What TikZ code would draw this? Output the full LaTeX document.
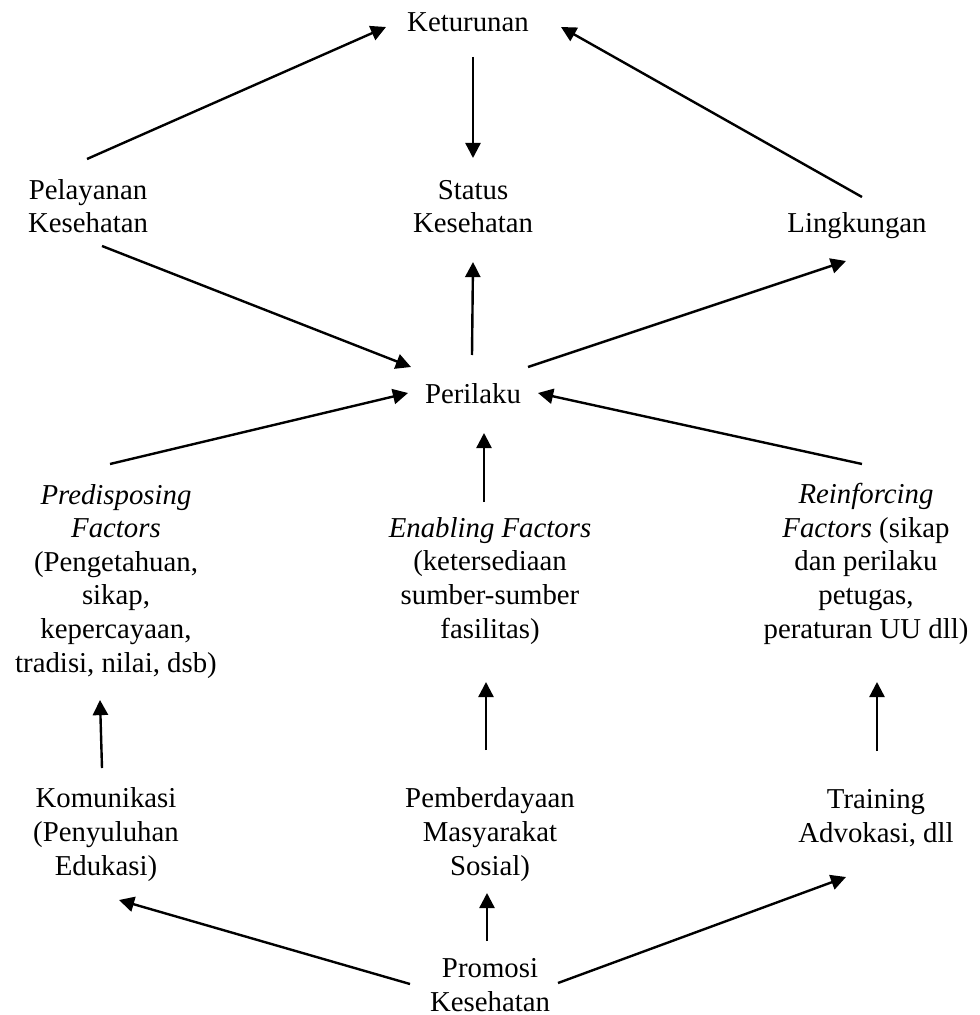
\documentclass[tikz,border=0pt]{standalone}
\usepackage{fontspec}
\setmainfont{Liberation Serif}
\usetikzlibrary{arrows.meta}

\begin{document}
\begin{tikzpicture}[x=0.41667pt,y=-0.41667pt,
    every node/.style={align=center,anchor=base,inner sep=0pt,font=\fontsize{12pt}{14pt}\selectfont},
    arr/.style={line width=1pt,-{Triangle[length=6.3pt,width=6.3pt]}}]
  \useasboundingbox (0,0) rectangle (979,1015);

  % nodes sit on the baseline of their last line
  \node (ket) at (468,32) {Keturunan}; % top
  \node (pel) at (88,233) {Pelayanan\\Kesehatan}; % left
  \node (sta) at (473,233) {Status\\Kesehatan}; % middle
  \node (lin) at (857,233) {Lingkungan}; % right
  \node (per) at (473,403) {Perilaku}; % centre

  \node (pre) at (116,672) {\textit{Predisposing}\\\textit{Factors}\\(Pengetahuan,\\sikap,\\kepercayaan,\\tradisi, nilai, dsb)};
  \node (ena) at (490,638) {\textit{Enabling Factors}\\(ketersediaan\\sumber-sumber\\fasilitas)};
  \node (rei) at (866,638) {\textit{Reinforcing}\\\textit{Factors} (sikap\\dan perilaku\\petugas,\\peraturan UU dll)};

  \node (kom) at (106,875) {Komunikasi\\(Penyuluhan\\Edukasi)};
  \node (pem) at (490,875) {Pemberdayaan\\Masyarakat\\Sosial)};
  \node (tra) at (876,842) {Training\\Advokasi, dll};
  \node (pro) at (490,1011) {Promosi\\Kesehatan}; % bottom

  % upper part
  \draw[arr] ([shift={(-1,-74)}]pel.base) -- ([shift={(-82,-5)}]ket.base);
  \draw[arr] ([shift={(5,-36)}]lin.base) -- ([shift={(93,-5)}]ket.base);
  \draw[arr] ([shift={(5,25)}]ket.base) -- ([shift={(0,-75)}]sta.base);
  \draw[arr] ([shift={(14,13)}]pel.base) -- ([shift={(-62,-36)}]per.base);
  \draw[arr] ([shift={(-1,-48)}]per.base) -- ([shift={(0,29)}]sta.base);
  \draw[arr] ([shift={(55,-36)}]per.base) -- ([shift={(-11,28)}]lin.base);

  % factors
  \draw[arr] ([shift={(-6,-208)}]pre.base) -- ([shift={(-65,-10)}]per.base);
  \draw[arr] ([shift={(-6,-136)}]ena.base) -- ([shift={(11,30)}]per.base);
  \draw[arr] ([shift={(-4,-174)}]rei.base) -- ([shift={(65,-10)}]per.base);

  % lower part
  \draw[arr] ([shift={(-4,-107)}]kom.base) -- ([shift={(-16,28)}]pre.base);
  \draw[arr] ([shift={(-4,-125)}]pem.base) -- ([shift={(-4,44)}]ena.base);
  \draw[arr] ([shift={(1,-91)}]tra.base) -- ([shift={(11,44)}]rei.base);
  \draw[arr] ([shift={(-80,-27)}]pro.base) -- ([shift={(13,25)}]kom.base);
  \draw[arr] ([shift={(-3,-70)}]pro.base) -- ([shift={(-3,18)}]pem.base);
  \draw[arr] ([shift={(68,-28)}]pro.base) -- ([shift={(-30,35)}]tra.base);
\end{tikzpicture}
\end{document}
